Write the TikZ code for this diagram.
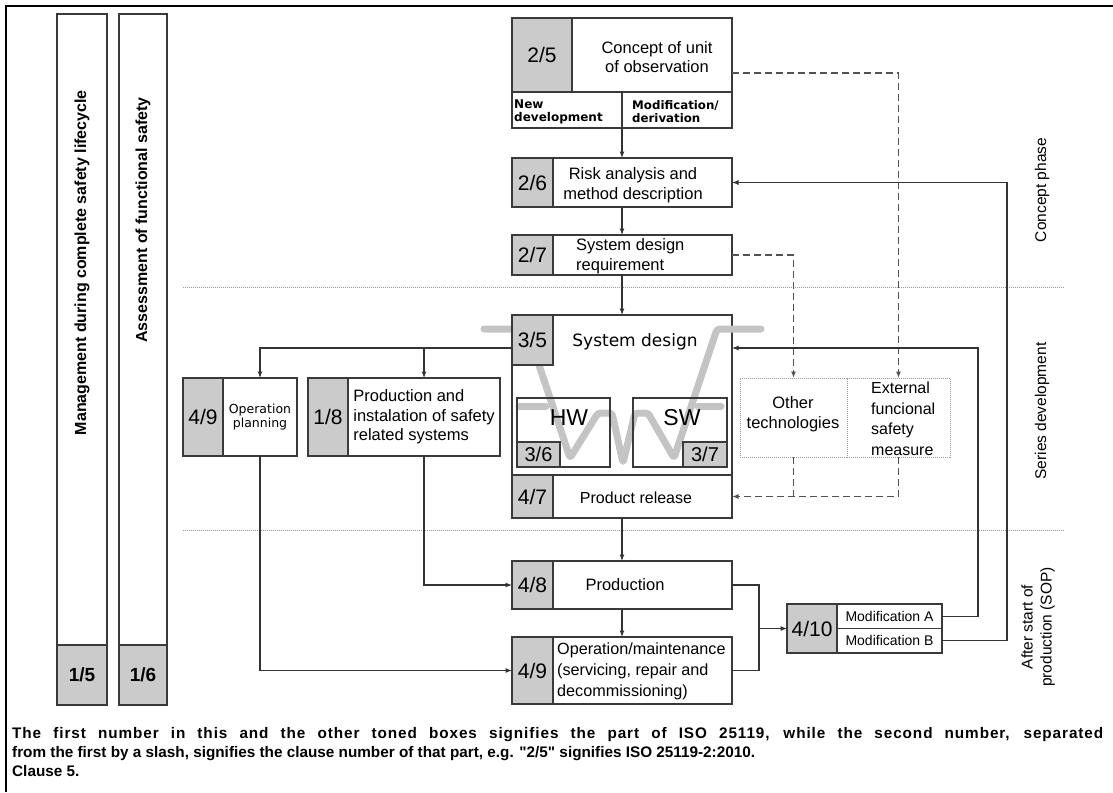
\documentclass[tikz,border=0pt]{standalone}
\usepackage{fontspec}
\setmainfont{Liberation Sans}
\newfontfamily\dejavu{DejaVu Sans}
\newfontfamily\notefont{Liberation Sans}
\usetikzlibrary{arrows.meta,positioning}
\definecolor{boxline}{HTML}{3A3A3A}
\definecolor{tone}{HTML}{CBCBCB}
\definecolor{vband}{HTML}{C4C4C4}
\definecolor{wire}{HTML}{333333}
\definecolor{sepline}{HTML}{9A9A9A}
\newcommand{\fs}[2]{\fontsize{#1}{#2}\selectfont}

\begin{document}
\begin{tikzpicture}[x=1pt,y=-1pt,
  box/.style={draw=boxline, line width=1.6pt, fill=white, inner sep=0pt, outer sep=0pt},
  cell/.style={draw=boxline, line width=1.6pt, fill=tone, inner sep=0pt, outer sep=0pt, font=\fs{21}{24}},
  lbl/.style={inner sep=0pt, align=center, font=\fs{16.5}{19.5}},
  arr/.style={draw=wire, line width=1.1pt, -{Latex[length=6.5pt,width=5pt]}},
  dasharr/.style={draw=wire!85, line width=1.4pt, dash pattern=on 7pt off 4pt, -{Latex[length=6.5pt,width=5pt]}},
  dashline/.style={draw=wire!85, line width=1.4pt, dash pattern=on 7pt off 4pt},
  dotbox/.style={draw=sepline, line width=1pt, densely dotted, inner sep=0pt, outer sep=0pt},
  phase/.style={draw=sepline, line width=1pt, densely dotted},
  sidelbl/.style={rotate=90, inner sep=0pt, align=center, font=\fs{15.5}{19}},
  barlbl/.style={rotate=90, anchor=east, inner sep=0pt, font=\bfseries\fs{16}{18}},
  notelbl/.style={anchor=base west, inner sep=0pt, font=\notefont\bfseries\fs{15.3}{19}},
]
\useasboundingbox (0,0) rectangle (1113,792);
\draw[line width=2pt] (6,792) -- (6,6) -- (1113,6);

% phase borders
\draw[phase] (183,287) -- (1065,287);
\draw[phase] (183,530) -- (1065,530);

% lifecycle bars
\node[box, minimum width=50, minimum height=691] (mgmt) at (82,359.5) {};
\node[cell, minimum width=50, minimum height=60, anchor=south, font=\bfseries\fs{19}{22}] (mgmt-n) at (mgmt.south) {1/5};
\node[barlbl] (mgmt-t) at (82,90) {Management during complete safety lifecycle};
\node[box, minimum width=48, minimum height=691] (assess) at (143,359.5) {};
\node[cell, minimum width=48, minimum height=60, anchor=south, font=\bfseries\fs{19}{22}] (assess-n) at (assess.south) {1/6};
\node[barlbl] (assess-t) at (143,97) {Assessment of functional safety};

% concept phase
\node[box, minimum width=220, minimum height=110] (concept) at (622,73) {};
\node[cell, minimum width=60, minimum height=74, anchor=north west] (concept-n) at (concept.north west) {2/5};
\draw[boxline, line width=1.6pt] (concept-n.south west) -- (concept-n.south west -| concept.east);
\draw[boxline, line width=1.6pt] (concept.south |- concept-n.south) -- (concept.south);
\node[lbl] (concept-t) at (657,57) {Concept of unit\\of observation};
\node[anchor=west, align=left, inner sep=0pt, font=\dejavu\bfseries\fs{12}{13}] (newdev) at (514,111.5) {New\\development};
\node[anchor=west, align=left, inner sep=0pt, font=\dejavu\bfseries\fs{11.8}{13}] (modder) at (632,111.5) {Modification/\\derivation};

\node[box, minimum width=220, minimum height=49] (risk) at (622,182.5) {};
\node[cell, minimum width=41, minimum height=49, anchor=north west] (risk-n) at (risk.north west) {2/6};
\node[lbl] (risk-t) at (633,185) {Risk analysis and\\method description};

\node[box, minimum width=220, minimum height=40] (req) at (622,255) {};
\node[cell, minimum width=41, minimum height=40, anchor=north west] (req-n) at (req.north west) {2/7};
\node[lbl, align=left, anchor=west, font=\fs{16.5}{20}] (req-t) at (576,256) {System design\\requirement};

% series development
\node[box, minimum width=220, minimum height=203] (sysd) at (622,416.5) {};
\draw[vband, line width=7pt, line cap=round, line join=round, rounded corners=3pt]
  (484,329) -- (527,329) -- (570,458) -- (598,413) -- (612,413) -- (623,463)
  -- (635,413) -- (648,413) -- (674,458) -- (717,329) -- (761,329);
\draw[vband, line width=7pt, line cap=round] (519,406) -- (546,406);
\draw[vband, line width=7pt, line cap=round] (698,406) -- (721,406);
\node[draw=boxline, line width=1.6pt, inner sep=0pt, outer sep=0pt, minimum width=93, minimum height=69] (hw) at (563.5,432.5) {};
\node[cell, minimum width=43, minimum height=25, anchor=south west, font=\fs{20}{22}] (hw-n) at (hw.south west) {3/6};
\node[draw=boxline, line width=1.6pt, inner sep=0pt, outer sep=0pt, minimum width=94, minimum height=69] (sw) at (680,432.5) {};
\node[cell, minimum width=44, minimum height=25, anchor=south east, font=\fs{20}{22}] (sw-n) at (sw.south east) {3/7};
\node[cell, minimum width=41, minimum height=50, anchor=north west] (sysd-n) at (sysd.north west) {3/5};
\node[inner sep=0pt, font=\dejavu\fs{17}{20}] (sysd-t) at (635,342) {System design};
\node[inner sep=0pt, font=\fs{23}{26}] (hw-t) at (569,418) {HW};
\node[inner sep=0pt, font=\fs{23}{26}] (sw-t) at (682,418) {SW};
\node[box, minimum width=220, minimum height=43, anchor=south] (rel) at (sysd.south) {};
\node[cell, minimum width=41, minimum height=43, anchor=north west] (rel-n) at (rel.north west) {4/7};
\node[lbl, font=\fs{16}{19}] (rel-t) at (636,498) {Product release};

\node[dotbox, minimum width=107, minimum height=79] (other) at (793.5,417.5) {};
\node[dotbox, minimum width=103, minimum height=79] (extm) at (898.5,417.5) {};
\node[lbl] (other-t) at (793,414) {Other\\technologies};
\node[lbl, align=left, anchor=west, font=\fs{16}{20.5}] (extm-t) at (871,419) {External\\funcional\\safety\\measure};

\node[cell, minimum width=40, minimum height=78] (opplan-n) at (203,417) {4/9};
\node[box, minimum width=74, minimum height=78, right=0pt of opplan-n, align=center, font=\dejavu\fs{12.5}{14.5}] (opplan) {Operation\\planning};
\node[cell, minimum width=40, minimum height=78] (pis-n) at (328,417) {1/8};
\node[box, minimum width=152, minimum height=78, right=0pt of pis-n, align=left, font=\fs{16.5}{19.5}] (pis) {Production and\\instalation of safety\\related systems};

% after SOP
\node[box, minimum width=220, minimum height=48] (prod) at (622,585) {};
\node[cell, minimum width=41, minimum height=48, anchor=north west] (prod-n) at (prod.north west) {4/8};
\node[lbl] (prod-t) at (625,585) {Production};

\node[box, minimum width=220, minimum height=67] (opm) at (622,670.5) {};
\node[cell, minimum width=41, minimum height=67, anchor=north west] (opm-n) at (opm.north west) {4/9};
\node[lbl, align=left, anchor=west, font=\fs{16.2}{21}] (opm-t) at (557,671) {Operation/maintenance\\(servicing, repair and\\decommissioning)};

\node[cell, minimum width=50, minimum height=49] (modif-n) at (812,628.5) {4/10};
\node[box, minimum width=105, minimum height=24.5, anchor=north west, font=\fs{14}{16}] (modA) at (modif-n.north east) {Modification A};
\node[box, minimum width=105, minimum height=24.5, anchor=north west, font=\fs{14}{16}] (modB) at (modA.south west) {Modification B};

% connectors
\coordinate (sdin) at (732,348);
\coordinate (sdout) at (512,348);
\coordinate (mjoin) at (759,628.5);
\draw[arr] (concept.south) -- (risk.north);
\draw[arr] (risk.south) -- (req.north);
\draw[arr] (req.south) -- (sysd.north);
\draw[arr] (sysd.south) -- (prod.north);
\draw[arr] (prod.south) -- (opm.north);
\draw[dasharr] (concept.east) -| (extm.north);
\draw[dasharr] (req.east) -| (other.north);
\draw[dashline] (other.south) -- (other.south |- rel.east);
\draw[dasharr] (extm.south) |- (rel.east);
\draw[arr] (modA.east) -- ++(36,0) |- (sdin);
\draw[arr] (modB.east) -- ++(65,0) |- (risk.east);
\draw[arr] (sdout) -| (opplan.north);
\draw[arr] (pis.north |- sdout) -- (pis.north);
\draw[arr] (opplan.south) |- (opm.west);
\draw[arr] (pis.south) |- (prod.west);
\draw[wire, line width=1.1pt] (prod.east) -| (mjoin) |- (opm.east);
\draw[arr] (mjoin) -- (modif-n.west);

% phase names
\node[sidelbl] (ph-concept) at (1042,190) {Concept phase};
\node[sidelbl] (ph-series) at (1042,411) {Series development};
\node[sidelbl] (ph-sop) at (1038,627) {After start of\\production (SOP)};

% note
\node[notelbl] (note1) at (12,738) {\makebox[1091pt][s]{\addfontfeature{LetterSpace=6}The first number in this and the other toned boxes signifies the part of ISO 25119, while the second number, separated}};
\node[notelbl] (note2) at (12,757) {from the first by a slash, signifies the clause number of that part, e.g. "2/5" signifies ISO 25119-2:2010.};
\node[notelbl] (note3) at (12,776) {Clause 5.};
\end{tikzpicture}
\end{document}
